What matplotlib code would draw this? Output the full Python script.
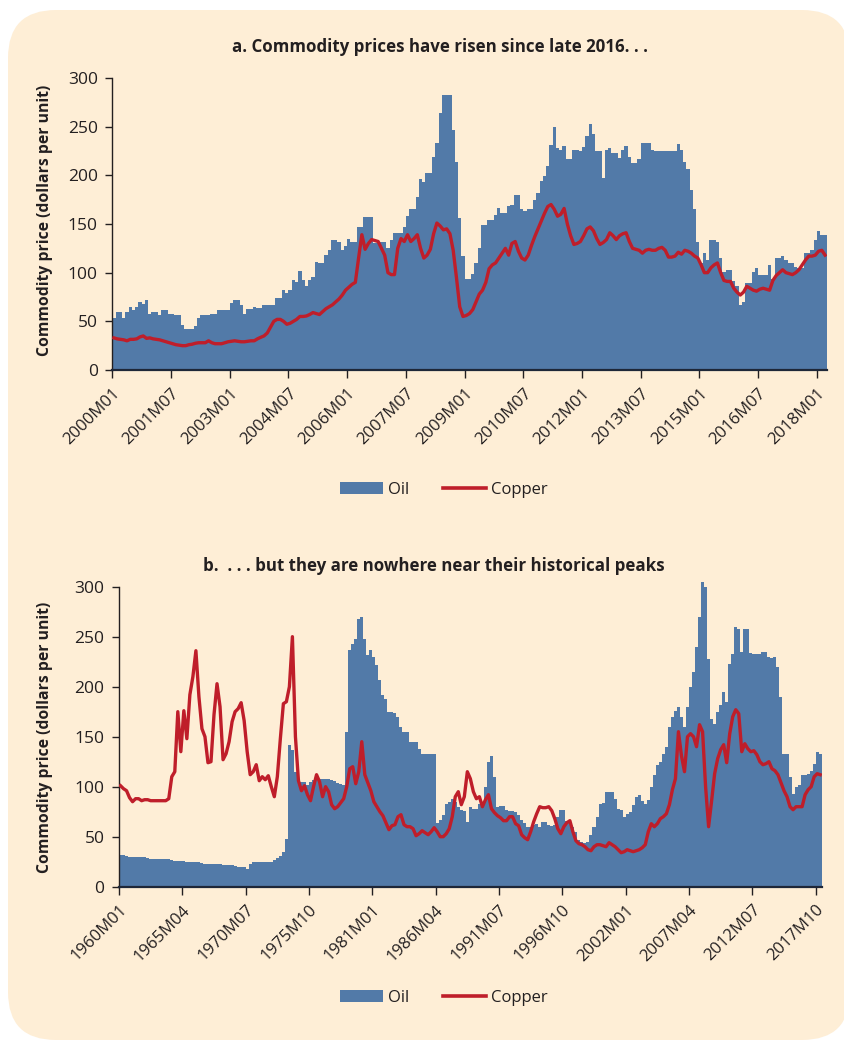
import numpy as np
import matplotlib
matplotlib.use('Agg')
import matplotlib.pyplot as plt
from matplotlib.patches import FancyBboxPatch, Patch
from matplotlib.lines import Line2D

plt.rcParams['font.family'] = ['Open Sans', 'DejaVu Sans']

# ---- panel a: monthly, 2000M01 .. 2018M03 ----
oil_a = [53, 60, 60, 53, 60, 65, 62, 65, 70, 68,
         72, 58, 60, 60, 57, 62, 62, 58, 58, 57,
         57, 46, 42, 42, 42, 45, 53, 57, 57, 56,
         58, 58, 62, 62, 62, 62, 69, 72, 72, 67,
         58, 63, 63, 65, 64, 64, 67, 67, 67, 67,
         74, 74, 82, 79, 82, 92, 90, 102, 92, 86,
         92, 96, 111, 110, 110, 118, 123, 134, 134, 132,
         123, 127, 135, 132, 132, 147, 147, 157, 157, 157,
         130, 130, 131, 131, 125, 134, 141, 141, 141, 147,
         158, 165, 165, 178, 196, 193, 202, 202, 219, 233,
         264, 283, 283, 283, 247, 214, 156, 117, 94, 94,
         99, 110, 125, 149, 149, 154, 154, 159, 166, 161,
         161, 168, 170, 180, 180, 165, 163, 165, 165, 175,
         182, 194, 199, 210, 231, 250, 228, 226, 230, 217,
         217, 226, 226, 225, 229, 240, 253, 242, 225, 225,
         197, 226, 228, 223, 223, 218, 226, 230, 219, 213,
         213, 217, 233, 233, 233, 226, 225, 225, 225, 225,
         225, 225, 225, 232, 226, 214, 206, 185, 165, 132,
         110, 120, 113, 134, 134, 132, 115, 101, 103, 103,
         91, 86, 67, 70, 89, 89, 101, 105, 98, 98,
         98, 108, 93, 115, 115, 117, 113, 110, 110, 106,
         105, 105, 120, 120, 123, 134, 143, 139, 139]

copper_a = [33, 32, 31.5, 31, 30, 31.5, 31.5, 32, 34, 35,
            32.5, 33, 32, 31.5, 31, 30, 29, 28, 27, 26,
            25.5, 25, 25, 26, 26.5, 27.5, 28, 28, 28, 30,
            28, 27, 27, 27, 28, 29, 29.5, 30, 29.5, 29,
            29, 29.5, 30, 30, 32, 33.6, 35, 38, 44, 50,
            52, 52, 50, 47, 48, 50, 52, 55, 55, 55.5,
            57, 59, 58, 57, 60, 63, 65, 67, 70, 73,
            77, 82, 85, 88, 90, 115, 139, 124, 130, 134,
            133, 132, 125, 118, 100, 98, 98, 125, 135, 132,
            139, 132, 135, 139, 125, 115, 118, 124, 140, 151,
            148, 144, 145, 140, 123, 95, 65, 55, 56, 58,
            62, 70, 78, 82, 90, 104, 108, 110, 115, 120,
            125, 118, 130, 132, 122, 115, 113, 118, 128, 137,
            145, 153, 161, 168, 170, 165, 158, 160, 166, 150,
            138, 129, 130, 132, 138, 145, 147, 143, 135, 129,
            131, 134, 141, 138, 134, 138, 140, 141, 132, 125,
            124, 123, 120, 123, 124, 123, 123, 125, 126, 123,
            116, 116, 117, 121, 119, 123, 122, 120, 117, 115,
            108, 100, 100, 105, 108, 110, 100, 92, 91, 91,
            84, 80, 77, 80, 86, 84, 82, 81, 83, 84,
            83, 82, 92, 97, 100, 103, 100, 99, 98, 100,
            103, 108, 113, 117, 117, 118, 122, 123, 118]

ticks_a = ['2000M01', '2001M07', '2003M01', '2004M07', '2006M01', '2007M07',
           '2009M01', '2010M07', '2012M01', '2013M07', '2015M01', '2016M07',
           '2018M01']

# ---- panel b: quarterly, 1960Q1 .. 2018Q1 ----
oil_b = [31.7, 31.7, 30.5, 30, 30, 30, 30, 30, 30, 29,
         28, 28, 28, 28, 28, 28, 28, 27, 26, 26,
         26, 26, 25, 24.4, 24.4, 24.4, 24.4, 23.5, 23, 23,
         23, 23, 23, 23, 21.4, 21.4, 21.4, 21.4, 20.5, 19.7,
         19.7, 19.7, 18, 23, 24.4, 25, 25, 25, 25, 25,
         25, 27, 29, 31, 35, 48, 141.7, 137, 115, 108,
         105, 105, 102, 105, 107, 107, 108, 108, 108, 108,
         107, 106, 104, 103, 102, 155, 237, 243, 248, 268,
         270, 248, 232, 237, 230, 222, 207, 192, 188, 175,
         175, 174, 170, 160, 155, 155, 145, 145, 145, 138,
         133, 133, 133, 133, 133, 64, 67, 72, 83, 85,
         88, 85, 80, 77, 76, 65, 80, 78, 78, 83,
         83, 100, 125, 131, 110, 80, 81, 81, 77, 76,
         76, 75, 72, 67, 64, 60, 60, 62, 63, 60,
         65, 65, 62, 61, 62, 70, 77, 77, 66, 64,
         60, 55, 47, 45, 44, 45, 52, 60, 70, 83,
         84, 95, 95, 95, 88, 78, 77, 70, 73, 75,
         82, 90, 92, 86, 83, 87, 100, 112, 122, 125,
         133, 140, 160, 170, 176, 180, 170, 160, 180, 200,
         215, 240, 270, 305, 300, 228, 168, 163, 175, 182,
         195, 185, 223, 233, 260, 258, 235, 258, 258, 234,
         233, 233, 233, 235, 235, 230, 229, 230, 220, 190,
         133, 133, 110, 93, 100, 102, 112, 112, 113, 116,
         123, 135, 133]

copper_b = [101, 98, 96, 89, 85, 88, 88, 86, 87, 87,
            86, 86, 86, 86, 86, 86, 88, 110, 115, 175,
            135, 176, 148, 192, 210, 236, 190, 158, 150, 124,
            125, 172, 203, 180, 127, 133, 145, 165, 175, 178,
            184, 166, 135, 112, 115, 122, 106, 110, 107, 111,
            100, 90, 110, 148, 183, 185, 200, 250, 150, 106,
            96, 101, 92, 86, 100, 112, 105, 90, 100, 95,
            82, 78, 80, 84, 88, 100, 118, 120, 103, 115,
            145, 112, 104, 96, 85, 80, 75, 71, 64, 57,
            61, 62, 70, 72, 62, 60, 60, 58, 51, 53,
            56, 54, 52, 55, 59, 55, 50, 50, 53, 58,
            70, 90, 95, 82, 90, 115, 108, 95, 88, 90,
            80, 87, 92, 78, 74, 71, 69, 66, 66, 70,
            70, 63, 61, 52, 49, 47, 55, 65, 73, 80,
            79, 79, 80, 76, 68, 58, 53, 60, 64, 66,
            55, 46, 43, 42, 40, 37, 36, 40, 42, 42,
            41, 40, 44, 42, 40, 37, 34, 35, 37, 36,
            35, 36, 37, 39, 42, 55, 63, 60, 63, 68,
            70, 73, 82, 97, 108, 155, 131, 115, 150, 153,
            150, 140, 162, 155, 100, 60, 86, 113, 128, 137,
            142, 124, 153, 170, 177, 173, 135, 143, 138, 135,
            136, 132, 125, 122, 123, 125, 118, 116, 112, 104,
            96, 90, 80, 77, 80, 80, 80, 92, 97, 100,
            110, 113, 112]

ticks_b = ['1960M01', '1965M04', '1970M07', '1975M10', '1981M01', '1986M04',
           '1991M07', '1996M10', '2002M01', '2007M04', '2012M07', '2017M10']

OIL_BLUE = '#527AA8'
COPPER_RED = '#BF1E2A'
PANEL_BG = '#FEEED6'
INK = '#231F20'

fig = plt.figure(figsize=(8.44, 10.42), dpi=100)

# rounded beige card behind everything (pixel coords)
bg = fig.add_axes([0, 0, 1, 1], zorder=-10)
bg.set_xlim(0, 844)
bg.set_ylim(1042, 0)
bg.axis('off')
bg.add_patch(FancyBboxPatch((8, 10), 842, 1030,
                            boxstyle='round,pad=0,rounding_size=48',
                            fc=PANEL_BG, ec='none'))


def draw_panel(ax, oil, copper, step, labels, tick_every):
    edges = np.arange(len(oil) + 1) * step
    ax.stairs(oil, edges, fill=True, color=OIL_BLUE, lw=0, clip_on=False, zorder=2)
    x_cu = np.arange(len(copper)) * step + step / 2
    ax.plot(x_cu, copper, color=COPPER_RED, lw=2.4, solid_joinstyle='round', zorder=3)

    ax.set_xlim(0, edges[-1])
    ax.set_ylim(0, 300)
    ax.set_yticks(np.arange(0, 301, 50))
    ax.set_xticks(np.arange(len(labels)) * tick_every)
    ax.set_xticklabels(labels, rotation=45, ha='right', rotation_mode='anchor',
                       fontsize=12)

    ax.patch.set_visible(False)
    for s in ['top', 'right']:
        ax.spines[s].set_visible(False)
    ax.spines['left'].set_color(INK)
    ax.spines['left'].set_linewidth(1.0)
    ax.spines['bottom'].set_color('#1E2738')
    ax.spines['bottom'].set_linewidth(1.6)
    ax.spines['bottom'].set_zorder(4)
    ax.tick_params(axis='x', direction='out', length=6, width=1.0, color=INK,
                   labelcolor=INK, pad=5)
    ax.tick_params(axis='y', direction='out', length=5, width=1.0, color=INK,
                   labelcolor=INK, labelsize=12.5, pad=5.5)


ax_a = fig.add_axes([112.3 / 844, 1 - 370 / 1042, 714.4 / 844, 292 / 1042])
draw_panel(ax_a, oil_a, copper_a, 1, ticks_a, 18)

ax_b = fig.add_axes([119 / 844, 1 - 886.7 / 1042, 702.7 / 844, 300 / 1042])
draw_panel(ax_b, oil_b, copper_b, 3, ticks_b, 63)

fig.text(0.521, 1 - 47 / 1042, 'a. Commodity prices have risen since late 2016. . .',
         ha='center', va='center', fontsize=12.2, fontweight='bold', color=INK)
fig.text(0.5136, 1 - 566 / 1042, 'b.  . . . but they are nowhere near their historical peaks',
         ha='center', va='center', fontsize=12.2, fontweight='bold', color=INK)

for yc in [220, 737]:
    fig.text(45 / 844, 1 - yc / 1042, 'Commodity price (dollars per unit)',
             rotation=90, ha='center', va='center', fontsize=11.3,
             fontweight='bold', color=INK)

handles = [Patch(facecolor=OIL_BLUE, edgecolor='none'),
           Line2D([0], [0], color=COPPER_RED, lw=2.6)]
for yc in [490, 998]:
    fig.legend(handles, ['Oil', 'Copper'], loc='center',
               bbox_to_anchor=(444 / 844, 1 - yc / 1042), ncol=2, frameon=False,
               fontsize=12, handlelength=2.6, handleheight=0.75,
               handletextpad=0.3, columnspacing=2.0, labelcolor=INK)

fig.savefig('out.png', dpi=100, facecolor='white')
